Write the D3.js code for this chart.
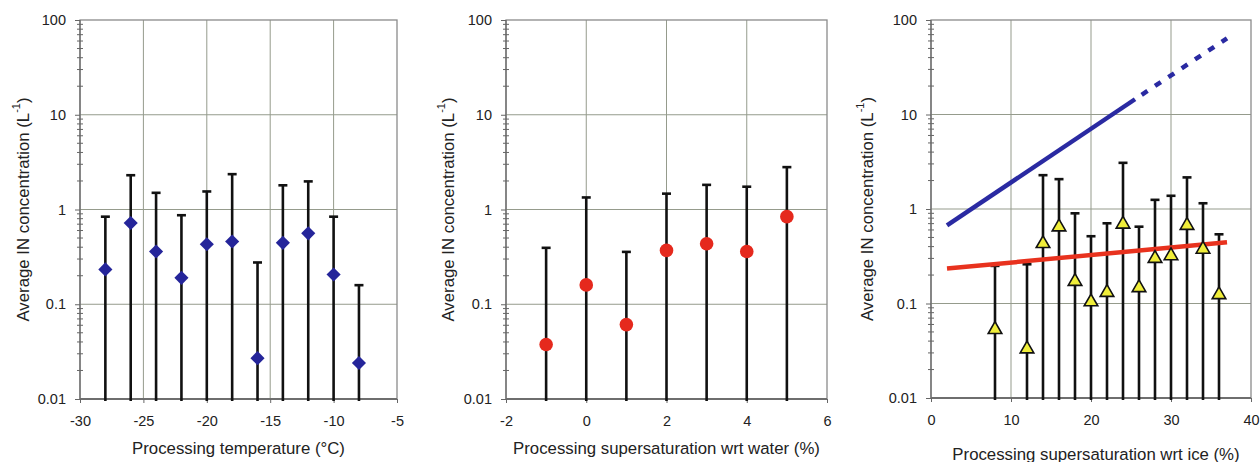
<!DOCTYPE html>
<html>
<head>
<meta charset="utf-8">
<script src="https://cdn.jsdelivr.net/npm/d3@7"></script>
<style>
  html, body { margin: 0; padding: 0; background: #ffffff; }
  svg { display: block; font-family: "Liberation Sans", Arial, sans-serif; }
</style>
</head>
<body>
<svg id="chart" width="1260" height="462"></svg>
<script>
// ---------------- DATA ----------------
const yTickValues = [0.01, 0.1, 1, 10, 100];
const yTickLabels = ["0.01", "0.1", "1", "10", "100"];
const yTitle = "Average IN concentration (L";

// Panel 1: processing temperature
const tempTicks = [-30, -25, -20, -15, -10, -5];
const tempX = [-28, -26, -24, -22, -20, -18, -16, -14, -12, -10, -8];
const tempMean = [0.233, 0.72, 0.36, 0.19, 0.43, 0.46, 0.027, 0.445, 0.56, 0.206, 0.024];
const tempUpper = [0.84, 2.3, 1.5, 0.87, 1.55, 2.36, 0.276, 1.8, 1.98, 0.84, 0.159];
const tempTitle = "Processing temperature (\u00B0C)";

// Panel 2: supersaturation wrt water
const waterTicks = [-2, 0, 2, 4, 6];
const waterX = [-1, 0, 1, 2, 3, 4, 5];
const waterMean = [0.0376, 0.16, 0.061, 0.37, 0.435, 0.36, 0.84];
const waterUpper = [0.394, 1.34, 0.357, 1.47, 1.82, 1.74, 2.8];
const waterTitle = "Processing supersaturation wrt water (%)";

// Panel 3: supersaturation wrt ice
const iceTicks = [0, 10, 20, 30, 40];
const iceX = [8, 12, 14, 16, 18, 20, 22, 24, 26, 28, 30, 32, 34, 36];
const iceMean = [0.053, 0.033, 0.43, 0.645, 0.171, 0.104, 0.131, 0.69, 0.147, 0.30, 0.32, 0.67, 0.375, 0.124];
const iceUpper = [0.25, 0.26, 2.28, 2.07, 0.90, 0.515, 0.706, 3.08, 0.65, 1.25, 1.38, 2.16, 1.15, 0.54];
const iceTitle = "Processing supersaturation wrt ice (%)";

// Reference lines in panel 3
const blueSolidX = [2, 25.5];
const blueSolidY = [0.67, 14.5];
const blueDashX = [25.5, 37];
const blueDashY = [14.5, 64];
const redLineX = [2, 37];
const redLineY = [0.234, 0.445];

// ---------------- DRAWING ----------------
const svg = d3.select("#chart");

function panel(cfg) {
  const { left, right, top, bottom, xDomain, xTicks, title, yTitleX, titleY, titleDX } = cfg;
  const x = d3.scaleLinear().domain(xDomain).range([left, right]);
  const y = d3.scaleLog().domain([0.01, 100]).range([bottom, top]);
  const g = svg.append("g");

  // gridlines
  const gridColor = "#959b8c";
  g.append("g").selectAll("line").data(xTicks.slice(1, -1)).join("line")
    .attr("x1", d => x(d)).attr("x2", d => x(d))
    .attr("y1", top).attr("y2", bottom)
    .attr("stroke", gridColor).attr("stroke-width", 1);
  g.append("g").selectAll("line").data(yTickValues.slice(1, -1)).join("line")
    .attr("x1", left).attr("x2", right)
    .attr("y1", d => y(d)).attr("y2", d => y(d))
    .attr("stroke", gridColor).attr("stroke-width", 1);

  // frame
  g.append("rect").attr("x", left).attr("y", top)
    .attr("width", right - left).attr("height", bottom - top)
    .attr("fill", "none").attr("stroke", "#8a8a8a").attr("stroke-width", 1.3);
  g.append("line").attr("x1", left).attr("x2", right).attr("y1", bottom).attr("y2", bottom)
    .attr("stroke", "#6e6e6e").attr("stroke-width", 2);
  g.append("line").attr("x1", left).attr("x2", left).attr("y1", top).attr("y2", bottom)
    .attr("stroke", "#6e6e6e").attr("stroke-width", 1.3);

  // y axis minor ticks
  const minors = [];
  for (let e = -2; e < 2; e++) for (let m = 2; m <= 9; m++) minors.push(m * Math.pow(10, e));
  g.append("g").selectAll("line").data(minors).join("line")
    .attr("x1", left - 3).attr("x2", left + 3)
    .attr("y1", d => y(d)).attr("y2", d => y(d))
    .attr("stroke", "#666").attr("stroke-width", 1);

  // y axis (major ticks + labels)
  const yAxis = d3.axisLeft(y).tickValues(yTickValues)
    .tickFormat((d, i) => yTickLabels[i]).tickSize(5).tickPadding(9);
  const ya = g.append("g").attr("transform", `translate(${left},0)`).call(yAxis);
  ya.select(".domain").remove();
  ya.selectAll(".tick line").attr("stroke", "#666");
  ya.selectAll(".tick text").attr("font-size", 14.5).attr("fill", "#222")
    .attr("font-family", "Liberation Sans, Arial, sans-serif");

  // x axis
  const xAxis = d3.axisBottom(x).tickValues(xTicks).tickSize(4).tickPadding(13)
    .tickFormat(d => d < 0 ? "-" + Math.abs(d) : String(d));
  const xa = g.append("g").attr("transform", `translate(0,${bottom})`).call(xAxis);
  xa.select(".domain").remove();
  xa.selectAll(".tick line").attr("stroke", "#666");
  xa.selectAll(".tick text").attr("font-size", 14.5).attr("fill", "#222")
    .attr("font-family", "Liberation Sans, Arial, sans-serif");

  // titles
  g.append("text").attr("x", (left + right) / 2 + (titleDX || 0)).attr("y", titleY)
    .attr("text-anchor", "middle").attr("dominant-baseline", "central")
    .attr("font-size", 16.8).attr("fill", "#222").text(title);

  const yt = g.append("text")
    .attr("transform", `translate(${yTitleX},${(top + bottom) / 2}) rotate(-90)`)
    .attr("text-anchor", "middle").attr("dominant-baseline", "central")
    .attr("font-size", 16.8).attr("fill", "#222");
  yt.append("tspan").text(yTitle);
  yt.append("tspan").attr("font-size", 11).attr("dy", -7).text("-1");
  yt.append("tspan").attr("dy", 7).text(")");

  return { g, x, y };
}

function errorBars(p, xs, means, uppers, bottom) {
  const data = xs.map((d, i) => ({ x: d, m: means[i], u: uppers[i] }));
  p.g.append("g").selectAll("line").data(data).join("line")
    .attr("x1", d => p.x(d.x)).attr("x2", d => p.x(d.x))
    .attr("y1", d => p.y(d.u)).attr("y2", bottom + 2)
    .attr("stroke", "#111").attr("stroke-width", 2.6);
  p.g.append("g").selectAll("line").data(data).join("line")
    .attr("x1", d => p.x(d.x) - 4.5).attr("x2", d => p.x(d.x) + 4.5)
    .attr("y1", d => p.y(d.u)).attr("y2", d => p.y(d.u))
    .attr("stroke", "#111").attr("stroke-width", 2.6);
  return data;
}

// Panel 1
const p1 = panel({ left: 80, right: 397, top: 20, bottom: 399, xDomain: [-30, -5],
  xTicks: tempTicks, title: tempTitle, yTitleX: 23, titleY: 448 });
const d1 = errorBars(p1, tempX, tempMean, tempUpper, 399);
p1.g.append("g").selectAll("path").data(d1).join("path")
  .attr("d", d3.symbol().type(d3.symbolSquare).size(100))
  .attr("transform", d => `translate(${p1.x(d.x)},${p1.y(d.m)}) rotate(45)`)
  .attr("fill", "#25259a");

// Panel 2
const p2 = panel({ left: 506, right: 827, top: 20, bottom: 399, xDomain: [-2, 6],
  xTicks: waterTicks, title: waterTitle, yTitleX: 448, titleY: 448 });
const d2 = errorBars(p2, waterX, waterMean, waterUpper, 399);
p2.g.append("g").selectAll("circle").data(d2).join("circle")
  .attr("cx", d => p2.x(d.x)).attr("cy", d => p2.y(d.m)).attr("r", 6.8)
  .attr("fill", "#e5291d");

// Panel 3
const p3 = panel({ left: 931, right: 1251, top: 20, bottom: 398, xDomain: [0, 40],
  xTicks: iceTicks, title: iceTitle, yTitleX: 867, titleY: 454, titleDX: 5 });
const line = d3.line().x(d => p3.x(d[0])).y(d => p3.y(d[1]));
p3.g.append("path").attr("d", line(blueSolidX.map((d, i) => [d, blueSolidY[i]])))
  .attr("fill", "none").attr("stroke", "#2a2aa2").attr("stroke-width", 4.5);
p3.g.append("path").attr("d", line(blueDashX.map((d, i) => [d, blueDashY[i]])))
  .attr("fill", "none").attr("stroke", "#2a2aa2").attr("stroke-width", 4.5)
  .attr("stroke-dasharray", "7,9").attr("stroke-dashoffset", -8);
const d3data = errorBars(p3, iceX, iceMean, iceUpper, 398);
p3.g.append("path").attr("d", line(redLineX.map((d, i) => [d, redLineY[i]])))
  .attr("fill", "none").attr("stroke", "#e8321e").attr("stroke-width", 4.5);
p3.g.append("g").selectAll("path").data(d3data).join("path")
  .attr("d", d3.symbol().type(d3.symbolTriangle).size(80))
  .attr("transform", d => `translate(${p3.x(d.x)},${p3.y(d.m)})`)
  .attr("fill", "#f0ee3a").attr("stroke", "#111").attr("stroke-width", 1.6)
  .attr("stroke-linejoin", "miter");
</script>
</body>
</html>
